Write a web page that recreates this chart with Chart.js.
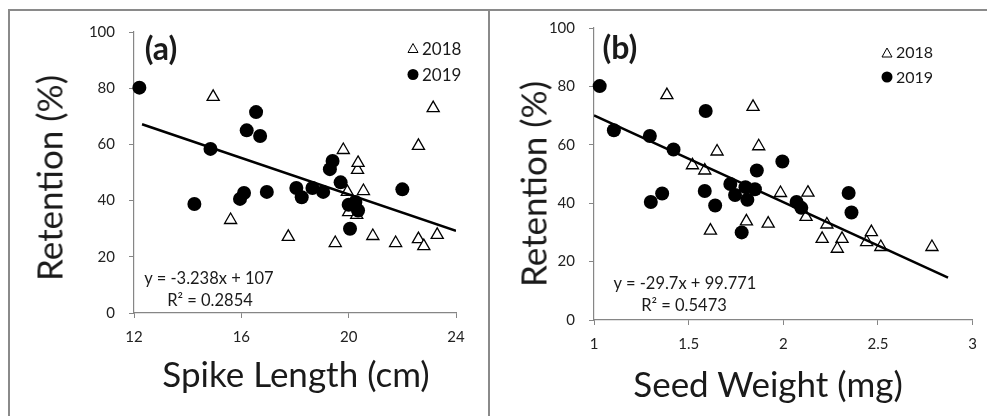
<!DOCTYPE html>
<html>
<head>
<meta charset="utf-8">
<script src="https://cdn.jsdelivr.net/npm/chart.js@4.4.1/dist/chart.umd.min.js"></script>
<style>
  body { margin: 0; background: #fff; }
  #page { position: relative; width: 987px; height: 416px; overflow: hidden; font-family: Lato, "Open Sans", sans-serif; color: #1a1a1a; }
  canvas { position: absolute; top: 0; }
  .rule { position: absolute; background: #8a8a8a; }
  .txt { position: absolute; white-space: nowrap; line-height: 1; transform: translate(-50%, -50%); }
  .vert { transform: translate(-50%, -50%) rotate(-90deg); }
  .big { font-size: 35px; }
  .tag { font-size: 32px; font-weight: bold; }
  .eq { font-size: 16.5px; }
  .leg { position: absolute; font-size: 17px; line-height: 1; display: flex; align-items: center; transform: translateY(-50%); }
  .leg svg { margin-right: 3px; }
</style>
</head>
<body>
<div id="page">
  <canvas id="chartA" width="489" height="416" style="left:0"></canvas>
  <canvas id="chartB" width="497" height="416" style="left:490px"></canvas>

  <div class="rule" style="left:8px; top:9px; width:979px; height:2px"></div>
  <div class="rule" style="left:8px; top:9px; width:2px; height:407px"></div>
  <div class="rule" style="left:488px; top:9px; width:2px; height:407px"></div>

  <div class="txt tag" style="left:161px; top:48px">(a)</div>
  <div class="txt tag" style="left:620px; top:47px">(b)</div>

  <div class="txt big vert" style="left:49px; top:178px">Retention (%)</div>
  <div class="txt big vert" style="left:533px; top:184px">Retention (%)</div>
  <div class="txt big" style="left:296px; top:373px">Spike Length (cm)</div>
  <div class="txt big" style="left:768px; top:383px">Seed Weight (mg)</div>

  <div class="txt eq" style="left:209px; top:278px">y = -3.238x + 107</div>
  <div class="txt eq" style="left:210px; top:300px">R² = 0.2854</div>
  <div class="txt eq" style="left:685px; top:283px">y = -29.7x + 99.771</div>
  <div class="txt eq" style="left:684px; top:305px">R² = 0.5473</div>

  <div class="leg" style="left:407px; top:48px"><svg width="12" height="11"><polygon points="6,1 11,10 1,10" fill="#fff" stroke="#000" stroke-width="1"/></svg>2018</div>
  <div class="leg" style="left:407px; top:74px"><svg width="12" height="12"><circle cx="6" cy="6" r="5.5" fill="#000"/></svg>2019</div>
  <div class="leg" style="left:881px; top:52px; font-size:16px"><svg width="12" height="11"><polygon points="6,1 11,10 1,10" fill="#fff" stroke="#000" stroke-width="1"/></svg>2018</div>
  <div class="leg" style="left:881px; top:77px; font-size:16px"><svg width="12" height="12"><circle cx="6" cy="6" r="5.5" fill="#000"/></svg>2019</div>
</div>

<script>
// panel (a): spike length vs retention
const spikeX2018 = [14.95, 15.6, 17.75, 19.5, 19.8, 19.95, 20.0, 20.3, 20.33, 20.35, 20.55, 20.9, 21.75, 22.6, 22.6, 22.8, 23.15, 23.3];
const spikeY2018 = [76.9, 33.1, 27.1, 24.9, 58.0, 43.1, 35.9, 34.9, 50.9, 53.4, 43.4, 27.4, 24.9, 59.5, 26.3, 23.8, 72.9, 27.8];
const spikeX2019 = [12.2, 14.25, 14.85, 15.95, 16.1, 16.2, 16.55, 16.7, 16.95, 18.05, 18.25, 18.65, 19.05, 19.3, 19.4, 19.7, 20.0, 20.25, 20.35, 20.05, 22.0];
const spikeY2019 = [80.2, 38.8, 58.4, 40.6, 42.7, 65.0, 71.5, 63.0, 43.1, 44.5, 41.2, 44.5, 43.1, 51.2, 54.1, 46.5, 38.5, 39.5, 36.5, 30.0, 44.0];
const spikeTrend = { slope: -3.238, intercept: 107, from: 12.3, to: 24 };
const spikeTicks = [12, 16, 20, 24];

// panel (b): seed weight vs retention
const seedX2018 = [1.385, 1.84, 1.87, 1.65, 1.52, 1.585, 1.985, 2.13, 1.615, 1.805, 1.92, 2.12, 2.23, 2.205, 2.31, 2.285, 2.44, 2.465, 2.515, 2.785];
const seedY2018 = [77.0, 73.0, 59.5, 57.7, 53.0, 51.2, 43.5, 43.6, 30.6, 33.8, 33.0, 35.3, 32.7, 27.8, 27.8, 24.4, 26.7, 30.1, 25.0, 25.0];
const seedX2019 = [1.03, 1.105, 1.295, 1.42, 1.59, 1.995, 1.86, 1.72, 1.585, 1.745, 1.81, 1.85, 1.80, 1.3, 1.36, 1.64, 2.07, 2.095, 2.345, 2.36, 1.78];
const seedY2019 = [80.1, 65.0, 63.0, 58.4, 71.6, 54.3, 51.2, 46.6, 44.2, 42.8, 41.2, 44.8, 45.5, 40.4, 43.3, 39.2, 40.4, 38.4, 43.5, 36.8, 30.0];
const seedTrend = { slope: -29.7, intercept: 99.771, from: 1.0, to: 2.87 };
const seedTicks = [1, 1.5, 2, 2.5, 3];

const retentionTicks = [0, 20, 40, 60, 80, 100];

const axisGrey = '#868686';
const tickFont = { family: 'Lato', size: 15 };

function zip(xs, ys) {
  return xs.map((x, i) => ({ x, y: ys[i] }));
}

function trendPoints(t) {
  return [t.from, t.to].map(x => ({ x, y: t.slope * x + t.intercept }));
}

function axis(ticks, extra) {
  return Object.assign({
    type: 'linear',
    min: ticks[0],
    max: ticks[ticks.length - 1],
    afterBuildTicks: s => { s.ticks = ticks.map(v => ({ value: v })); },
    ticks: { font: tickFont, color: '#222', callback: v => String(v) },
    grid: { drawOnChartArea: false, color: axisGrey, tickLength: 5 },
    border: { color: axisGrey, width: 1.2 }
  }, extra);
}

function makeChart(el, p) {
  return new Chart(el, {
    type: 'scatter',
    data: {
      datasets: [
        {
          label: 'trend',
          data: trendPoints(p.trend),
          showLine: true,
          borderColor: '#000',
          borderWidth: 2.5,
          pointRadius: 0,
          order: 0
        },
        {
          label: '2019',
          data: zip(p.x2019, p.y2019),
          pointStyle: 'circle',
          pointRadius: 7,
          backgroundColor: '#000',
          borderColor: '#000',
          borderWidth: 0,
          clip: false,
          order: 1
        },
        {
          label: '2018',
          data: zip(p.x2018, p.y2018),
          pointStyle: 'triangle',
          pointRadius: 7,
          backgroundColor: '#fff',
          borderColor: '#000',
          borderWidth: 1.3,
          clip: false,
          order: 2
        }
      ]
    },
    options: {
      responsive: false,
      animation: false,
      events: [],
      layout: { padding: p.padding },
      plugins: { legend: { display: false }, tooltip: { enabled: false } },
      scales: {
        x: axis(p.xTicks, {
          afterFit: s => { s.height = p.xAxisHeight; }
        }),
        y: axis(retentionTicks, {
          afterFit: s => { s.width = p.yAxisWidth; }
        })
      }
    }
  });
}

// tick label gaps
Chart.defaults.scale.ticks.padding = 10;

const chartA = makeChart(document.getElementById('chartA'), {
  x2018: spikeX2018, y2018: spikeY2018, x2019: spikeX2019, y2019: spikeY2019,
  trend: spikeTrend, xTicks: spikeTicks,
  padding: { left: 0, top: 32, right: 33, bottom: 0 },
  yAxisWidth: 134, xAxisHeight: 103
});

const chartB = makeChart(document.getElementById('chartB'), {
  x2018: seedX2018, y2018: seedY2018, x2019: seedX2019, y2019: seedY2019,
  trend: seedTrend, xTicks: seedTicks,
  padding: { left: 0, top: 28, right: 13, bottom: 0 },
  yAxisWidth: 104, xAxisHeight: 96
});

// y labels sit a bit further from the axis than x labels
[chartA, chartB].forEach(c => {
  c.options.scales.y.ticks.padding = 14;
  c.update();
});
</script>
</body>
</html>
